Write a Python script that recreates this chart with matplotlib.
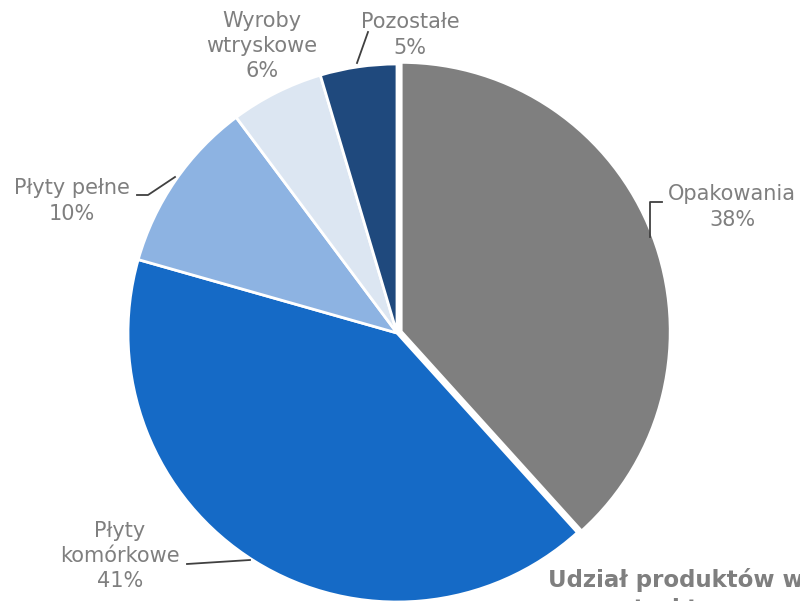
import matplotlib
matplotlib.use('Agg')
import matplotlib.pyplot as plt

# udzial produktow, od godziny 12 zgodnie z ruchem wskazowek
categories = ['Opakowania', 'Płyty\nkomórkowe', 'Płyty pełne', 'Wyroby\nwtryskowe', 'Pozostałe']
shares = [38.3, 41.1, 10.4, 5.6, 4.6]
colors = ['#7f7f7f', '#156ac6', '#8db3e2', '#dce6f2', '#1f497d']
explode = [4.5, 0, 0, 0, 0]

fig = plt.figure(figsize=(8, 6.01), dpi=100)
ax = fig.add_axes([0, 0, 1, 1])

ax.pie(shares, colors=colors, explode=explode, startangle=90, counterclock=False,
       center=(397, 268), radius=269,
       wedgeprops=dict(edgecolor='white', linewidth=2))

ax.set_xlim(0, 800)
ax.set_ylim(0, 601)
ax.set_aspect('equal')
ax.axis('off')

# etykiety z liniami odniesienia
label_pos = [(732, 394), (120, 45), (72, 400), (262, 555), (410, 566)]
leaders = [
    [(650, 364), (650, 399), (662, 399)],
    [(250, 41), (187, 37)],
    [(175, 424), (148, 406), (137, 406)],
    None,
    [(357, 538), (368, 569)],
]
for cat, val, (x, y), lead in zip(categories, shares, label_pos, leaders):
    ax.text(x, y, '%s\n%d%%' % (cat, int(val + 0.5)), ha='center', va='center',
            fontsize=15, color='#7f7f7f', linespacing=1.32)
    if lead:
        xs, ys = zip(*lead)
        ax.plot(xs, ys, color='#404040', lw=1.3)

# tytul (przyciety przez krawedz obrazka)
ax.text(548, 21, 'Udział produktów w', ha='left', va='center',
        fontsize=16.5, fontweight='bold', color='#7f7f7f')
ax.text(620, -8, 'strukturze przychodów', ha='left', va='center',
        fontsize=16.5, fontweight='bold', color='#7f7f7f')

plt.savefig('out.png', dpi=100)
